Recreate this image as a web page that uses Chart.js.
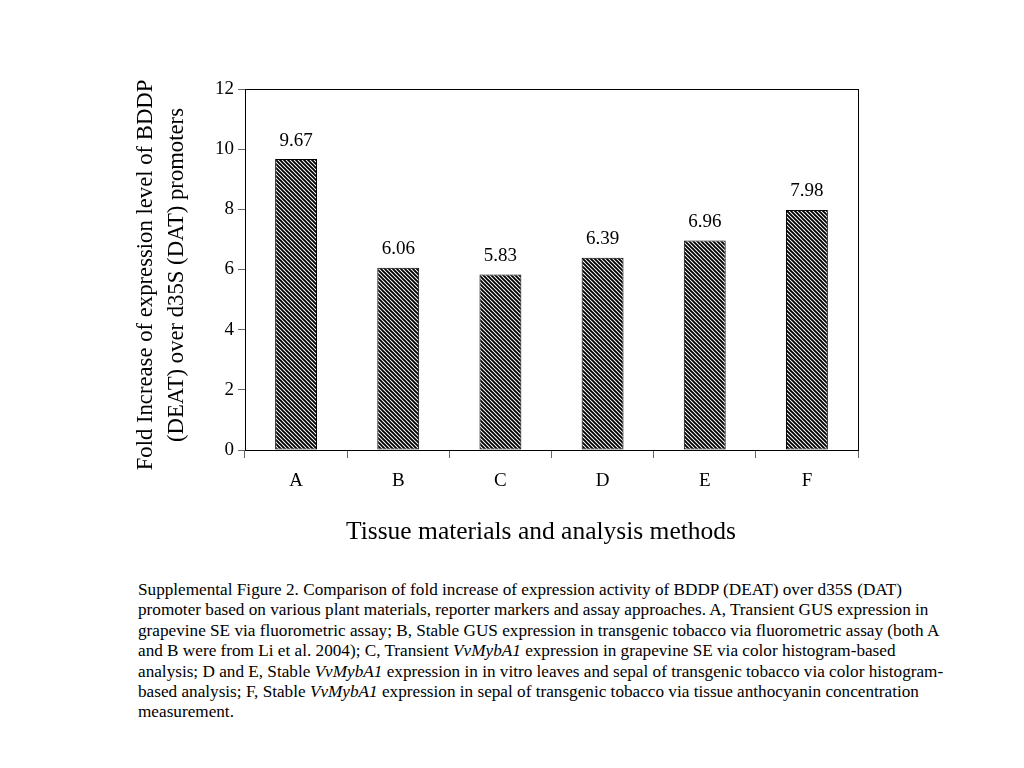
<!DOCTYPE html>
<html>
<head>
<meta charset="utf-8">
<script src="https://cdn.jsdelivr.net/npm/chart.js@4"></script>
<style>
    body { margin: 0; width: 1024px; height: 768px; background: #fff; position: relative; overflow: hidden; }
    #wrap { position: absolute; left: 0; top: 0; width: 1024px; height: 560px; }
    #caption {
        position: absolute; left: 138px; top: 580px; width: 840px;
        font-family: "Liberation Serif", "Times New Roman", serif;
        font-size: 17.2px; line-height: 20.4px; color: #000; white-space: nowrap;
    }
</style>
</head>
<body>
<div id="wrap"><canvas id="chart"></canvas></div>
<div id="caption">
Supplemental Figure 2. Comparison of fold increase of expression activity of BDDP (DEAT) over d35S (DAT)<br>
promoter based on various plant materials, reporter markers and assay approaches. A, Transient GUS expression in<br>
grapevine SE via fluorometric assay; B, Stable GUS expression in transgenic tobacco via fluorometric assay (both A<br>
and B were from Li et al. 2004); C, Transient <i>VvMybA1</i> expression in grapevine SE via color histogram-based<br>
analysis; D and E, Stable <i>VvMybA1</i> expression in in vitro leaves and sepal of transgenic tobacco via color histogram-<br>
based analysis; F, Stable <i>VvMybA1</i> expression in sepal of transgenic tobacco via tissue anthocyanin concentration<br>
measurement.
</div>
<script>
// 데이터
const categories = ['A', 'B', 'C', 'D', 'E', 'F'];
const foldValues = [9.67, 6.06, 5.83, 6.39, 6.96, 7.98];
const yTitleLines = ['Fold Increase of expression level of BDDP', '(DEAT) over d35S (DAT) promoters'];
const xTitle = 'Tissue materials and analysis methods';

const serif = '"Liberation Serif", "Times New Roman", serif';

// 빗금 패턴
function makeHatch() {
    const s = 4;
    const c = document.createElement('canvas');
    c.width = s; c.height = s;
    const g = c.getContext('2d');
    g.fillStyle = '#fff';
    g.fillRect(0, 0, s, s);
    g.strokeStyle = '#000';
    g.lineWidth = 1.9;
    g.beginPath();
    g.moveTo(-1, -1); g.lineTo(s + 1, s + 1);
    g.moveTo(-1, s - 1); g.lineTo(1, s + 1);
    g.moveTo(s - 1, -1); g.lineTo(s + 1, 1);
    g.stroke();
    return g.createPattern(c, 'repeat');
}

// 플롯 테두리, 값 라벨, 축 제목
const extras = {
    id: 'extras',
    afterDatasetsDraw(chart) {
        const { ctx, chartArea: a } = chart;
        ctx.save();
        ctx.strokeStyle = '#000';
        ctx.lineWidth = 1;
        ctx.strokeRect(a.left + 0.5, a.top + 0.5, a.right - a.left, a.bottom - a.top);
        ctx.fillStyle = '#000';
        ctx.font = '19px ' + serif;
        ctx.textAlign = 'center';
        ctx.textBaseline = 'bottom';
        chart.getDatasetMeta(0).data.forEach((bar, i) => {
            ctx.fillText(foldValues[i].toFixed(2), bar.x, bar.y - 9);
        });

        // x축 제목
        ctx.textBaseline = 'middle';
        ctx.font = '25.5px ' + serif;
        ctx.fillText(xTitle, 541, a.bottom + 82);

        // y축 제목 (두 줄)
        ctx.font = '22.7px ' + serif;
        ctx.translate(0, 275);
        ctx.rotate(-Math.PI / 2);
        ctx.fillText(yTitleLines[0], 0, 146);
        ctx.fillText(yTitleLines[1], 0, 177);
        ctx.restore();
    }
};

new Chart(document.getElementById('chart'), {
    type: 'bar',
    data: {
        labels: categories,
        datasets: [{
            data: foldValues,
            backgroundColor: makeHatch(),
            borderColor: '#000',
            borderWidth: 1,
            borderSkipped: false,
            categoryPercentage: 1,
            barPercentage: 0.41
        }]
    },
    options: {
        responsive: true,
        maintainAspectRatio: false,
        animation: false,
        layout: { padding: { left: 131, right: 166, top: 89, bottom: 0 } },
        plugins: { legend: { display: false }, tooltip: { enabled: false } },
        scales: {
            x: {
                afterFit(scale) { scale.height = 110; },
                grid: { offset: true, drawOnChartArea: false, tickLength: 8, color: '#666' },
                border: { color: '#000' },
                ticks: { color: '#000', font: { family: serif, size: 19 }, padding: 12 }
            },
            y: {
                min: 0, max: 12,
                afterFit(scale) { scale.width = 114; },
                grid: { drawOnChartArea: false, tickLength: 7, color: '#666' },
                border: { color: '#000' },
                ticks: { stepSize: 2, color: '#000', font: { family: serif, size: 19 }, padding: 4 }
            }
        }
    },
    plugins: [extras]
});
</script>
</body>
</html>
